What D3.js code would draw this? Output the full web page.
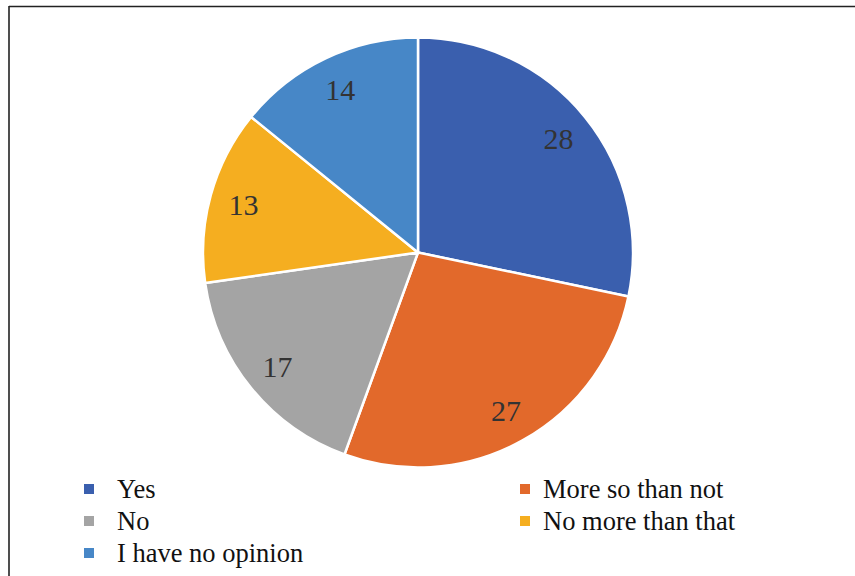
<!DOCTYPE html>
<html><head><meta charset="utf-8">
<script src="https://cdn.jsdelivr.net/npm/d3@7"></script>
<style>body{margin:0;background:#fff}svg{display:block}
text{font-family:"Liberation Serif","Times New Roman",Times,"DejaVu Serif",serif}</style>
</head><body>
<svg id="c" width="855" height="576"></svg>
<script>
const categories = ["Yes", "More so than not", "No", "No more than that", "I have no opinion"];
const values = [28, 27, 17, 13, 14];
const colors = ["#3a5fae", "#e2692b", "#a4a4a4", "#f5ae20", "#4787c7"];
const legendOrder = [["Yes", "More so than not"], ["No", "No more than that"], ["I have no opinion", null]];

const svg = d3.select("#c");
// frame
svg.append("line").attr("x1", 9).attr("x2", 855).attr("y1", 6.5).attr("y2", 6.5).attr("stroke", "#222").attr("stroke-width", 1.6);
svg.append("line").attr("x1", 9).attr("x2", 9).attr("y1", 6).attr("y2", 576).attr("stroke", "#222").attr("stroke-width", 1.6);

const cx = 418, cy = 252.5, R = 215;
const color = d3.scaleOrdinal().domain(categories).range(colors);
const pie = d3.pie().sort(null).value(d => d.v);
const data = categories.map((c, i) => ({c, v: values[i]}));
const arcs = pie(data);
const arc = d3.arc().innerRadius(0).outerRadius(R);
const labelArc = d3.arc().innerRadius(181).outerRadius(181);
const g = svg.append("g").attr("transform", `translate(${cx},${cy})`);
g.selectAll("path").data(arcs).join("path")
  .attr("d", arc).attr("fill", d => color(d.data.c))
  .attr("stroke", "#fff").attr("stroke-width", 2.5).attr("stroke-linejoin", "round");
g.selectAll("text").data(arcs).join("text")
  .attr("transform", d => `translate(${labelArc.centroid(d)})`)
  .attr("text-anchor", "middle").attr("dy", "0.35em")
  .attr("font-size", 30).attr("fill", "#333")
  .text(d => d.data.v);

// legend
const colX = [84, 520];
const textOff = [33, 23];
const rowY = [489, 521, 553];
legendOrder.forEach((row, ri) => {
  row.forEach((name, ci) => {
    if (!name) return;
    const lg = svg.append("g").attr("transform", `translate(${colX[ci]},${rowY[ri]})`);
    lg.append("rect").attr("x", 0).attr("y", -5).attr("width", 10).attr("height", 10).attr("fill", color(name));
    lg.append("text").attr("x", textOff[ci]).attr("y", 0).attr("dy", "0.35em")
      .attr("font-size", 26.5).attr("fill", "#111").text(name);
  });
});
</script>
</body></html>
